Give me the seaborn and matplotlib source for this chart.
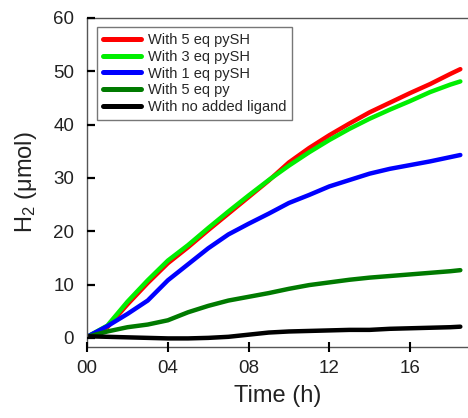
import numpy as np
import pandas as pd
import matplotlib
matplotlib.use("Agg")
import matplotlib.pyplot as plt
import seaborn as sns

sns.set_style("ticks")
plt.rcParams['font.family'] = ['Liberation Sans', 'DejaVu Sans']
plt.rcParams['mathtext.fontset'] = 'custom'
plt.rcParams['mathtext.rm'] = 'Liberation Sans'
plt.rcParams['mathtext.it'] = 'Liberation Sans:italic'
plt.rcParams['axes.axisbelow'] = False
plt.rcParams['xtick.direction'] = 'inout'
plt.rcParams['ytick.direction'] = 'in'
plt.rcParams['xtick.major.size'] = 7
plt.rcParams['ytick.major.size'] = 6
plt.rcParams['xtick.major.width'] = 1.5
plt.rcParams['ytick.major.width'] = 1.6
plt.rcParams['xtick.color'] = 'black'
plt.rcParams['ytick.color'] = 'black'

time_h = [0, 1, 2, 3, 4, 5, 6, 7, 8, 9, 10, 11, 12, 13, 14, 15, 16, 17, 18, 18.5]

pysh5 = [0.2, 2.0, 6.3, 10.3, 14.0, 17.0, 20.2, 23.3, 26.4, 29.5, 32.9, 35.6, 38.0, 40.2, 42.3, 44.1, 45.9, 47.6, 49.5, 50.4]
pysh3 = [0.2, 2.3, 6.8, 10.8, 14.5, 17.4, 20.6, 23.7, 26.7, 29.6, 32.3, 34.8, 37.1, 39.2, 41.1, 42.8, 44.4, 46.1, 47.5, 48.1]
pysh1 = [0.2, 2.2, 4.5, 7.0, 10.8, 13.8, 16.8, 19.4, 21.4, 23.3, 25.3, 26.8, 28.4, 29.6, 30.8, 31.7, 32.4, 33.1, 33.9, 34.3]
py5 = [0.2, 1.2, 2.0, 2.5, 3.3, 4.8, 6.0, 7.0, 7.7, 8.4, 9.2, 9.9, 10.4, 10.9, 11.3, 11.6, 11.9, 12.2, 12.5, 12.7]
no_ligand = [0.3, 0.2, 0.1, 0.0, -0.1, -0.1, 0.0, 0.2, 0.6, 1.0, 1.2, 1.3, 1.4, 1.5, 1.5, 1.7, 1.8, 1.9, 2.0, 2.1]

labels = ["With 5 eq pySH", "With 3 eq pySH", "With 1 eq pySH", "With 5 eq py", "With no added ligand"]
colors = ["#ff0000", "#00ee00", "#0000ff", "#007a00", "#000000"]
series = [pysh5, pysh3, pysh1, py5, no_ligand]

xticks = [0, 4, 8, 12, 16]
xticklabels = ["00", "04", "08", "12", "16"]
yticks = [0, 10, 20, 30, 40, 50, 60]

df = pd.concat([pd.DataFrame({"Time": time_h, "H2": s, "Condition": lab})
                for s, lab in zip(series, labels)], ignore_index=True)

fig = plt.figure(figsize=(4.68, 4.18), dpi=100)
ax = fig.add_axes([0.185, 0.170, 0.815, 0.957 - 0.170])

sns.lineplot(data=df, x="Time", y="H2", hue="Condition", hue_order=labels,
             palette=dict(zip(labels, colors)), linewidth=3.2, ax=ax,
             estimator=None, sort=True)

ax.set_xlim(-0.03, 18.88)
ax.set_ylim(-1.7, 60)
ax.set_xticks(xticks)
ax.set_xticklabels(xticklabels)
ax.set_yticks(yticks)
ax.tick_params(axis='x', labelsize=13.5, labelcolor='#222222', pad=6)
ax.tick_params(axis='y', labelsize=13.5, labelcolor='#222222', pad=9)
for side in ['left', 'bottom', 'top']:
    ax.spines[side].set_color('#555555')
    ax.spines[side].set_linewidth(1.0)
ax.spines['right'].set_visible(False)

ax.set_xlabel("Time (h)", fontsize=17, color='#222222', labelpad=6)
ax.set_ylabel("H$_2$ ($\\mathregular{\\mu}$mol)", fontsize=17, color='#222222', labelpad=10)

leg = ax.legend(loc='upper left', bbox_to_anchor=(0.028, 0.973), frameon=True,
                fontsize=10.5, handlelength=2.6, handletextpad=0.45,
                labelspacing=0.2, borderpad=0.4, borderaxespad=0.0, fancybox=False)
leg.get_frame().set_edgecolor('#555555')
leg.get_frame().set_linewidth(1.0)
for line in leg.get_lines():
    line.set_linewidth(3.6)

fig.savefig("out.png", dpi=100, facecolor='white')
